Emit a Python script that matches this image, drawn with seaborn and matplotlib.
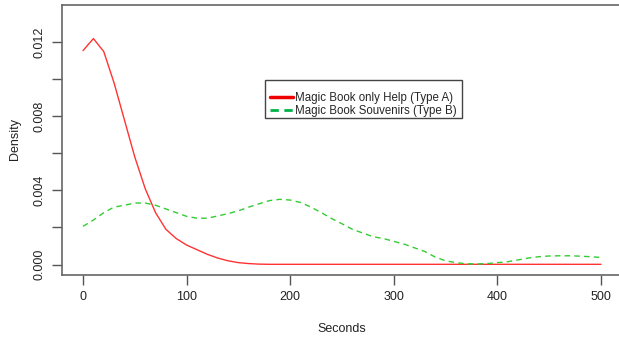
import numpy as np
import pandas as pd
import matplotlib
matplotlib.use("Agg")
import matplotlib.pyplot as plt
from matplotlib.patches import Rectangle
import seaborn as sns

# density estimates, every 10 seconds
seconds = list(range(0, 510, 10))
type_a = [0.01155, 0.0122, 0.0115, 0.0098, 0.0078, 0.0058, 0.0041, 0.0028, 0.0019, 0.0014,
          0.00105, 0.0008, 0.00055, 0.00035, 0.0002, 0.0001, 0.00005, 0.00002] + [0.00001] * 33
type_b = [0.00206, 0.0024, 0.0028, 0.0031, 0.0032, 0.00332, 0.00332, 0.0032, 0.0030, 0.0028,
          0.0026, 0.0025, 0.0025, 0.00262, 0.00275, 0.0029, 0.0031, 0.00328, 0.00345, 0.00352,
          0.00348, 0.00335, 0.0031, 0.0028, 0.00248, 0.0022, 0.0019, 0.0017, 0.0015, 0.0014,
          0.00125, 0.0011, 0.0009, 0.0007, 0.0004, 0.0002, 0.0001, 0.00004, 0.00003, 0.00005,
          0.0001, 0.00015, 0.00025, 0.00035, 0.00042, 0.00046, 0.00047, 0.00047, 0.00045, 0.00042,
          0.00038]
labels = ['Magic Book only Help (Type A)', 'Magic Book Souvenirs (Type B)']
y_ticks = [0.000, 0.002, 0.004, 0.006, 0.008, 0.010, 0.012]

df = pd.DataFrame({'Seconds': seconds * 2,
                   'Density': type_a + type_b,
                   'type': [labels[0]] * len(seconds) + [labels[1]] * len(seconds)})

sns.set_style('white')
plt.rcParams['font.family'] = ['Liberation Sans', 'DejaVu Sans']

fig = plt.figure(figsize=(6.19, 3.38), dpi=100)
ax = fig.add_axes([62.3 / 619, (338 - 274.5) / 338, (621.7 - 62.3) / 619, 270 / 338])

sns.lineplot(data=df[df['type'] == labels[0]], x='Seconds', y='Density', color='#ff3333',
             lw=1, ax=ax, legend=False)
sns.lineplot(data=df[df['type'] == labels[1]], x='Seconds', y='Density', color='#33cc33',
             lw=1, ax=ax, legend=False)
ax.lines[1].set_dashes((4, 3))

ax.set_xlim(-20, 520)
ax.set_ylim(-0.00054, 0.01404)
ax.set_xticks([0, 100, 200, 300, 400, 500])
ax.set_yticks(y_ticks)
ax.set_yticklabels(['%.3f' % v if i % 2 == 0 else '' for i, v in enumerate(y_ticks)],
                   rotation=90, va='center')
ax.tick_params(axis='both', direction='out', length=7, width=1, color='#555555',
               labelsize=9, labelcolor='#222222', pad=5, left=True, bottom=True)
ax.set_xlabel('Seconds', fontsize=9, color='#222222', labelpad=14)
ax.set_ylabel('Density', fontsize=9, color='#222222', labelpad=9)
for s in ax.spines.values():
    s.set_color('#666666')
    s.set_linewidth(1.2)

# legend box like R's legend()
ax.add_patch(Rectangle((0.3623, 0.5807), 0.3522, 0.1397, transform=ax.transAxes,
                       facecolor='white', edgecolor='#444444', lw=1, zorder=4))
h1, = ax.plot([], [], color='#ee0000', lw=2.5)
h2, = ax.plot([], [], color='#00b347', lw=2, dashes=(3, 2))
leg = ax.legend([h1, h2], labels, loc='center left', bbox_to_anchor=(0.3713, 0.630),
                fontsize=8.3, frameon=False, handlelength=2.0,
                handletextpad=0.2, borderpad=0, labelspacing=0.05, borderaxespad=0)
leg.set_zorder(5)

fig.savefig('out.png', dpi=100)
